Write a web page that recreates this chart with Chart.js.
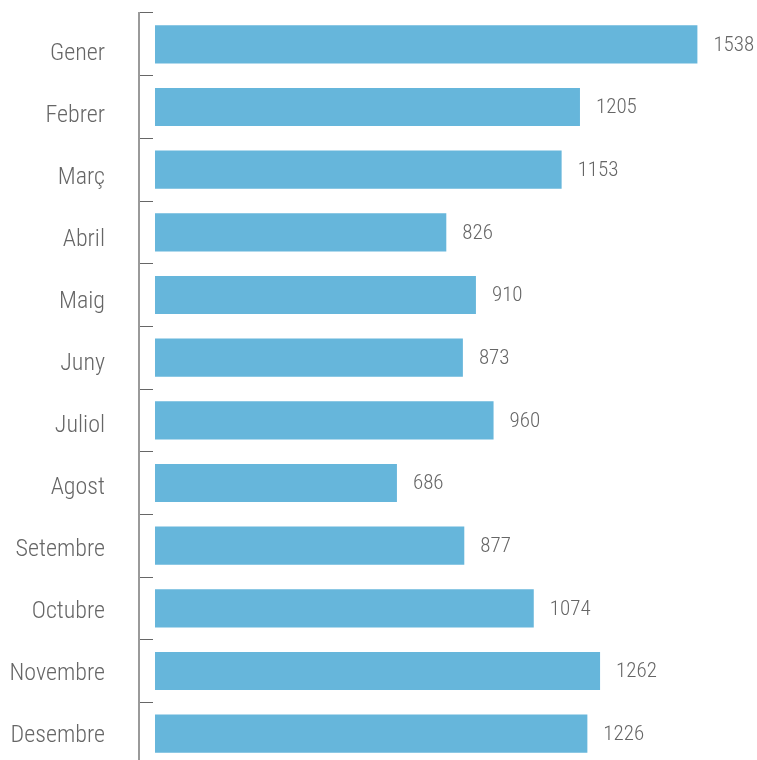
<!DOCTYPE html>
<html>
<head>
<meta charset="utf-8">
<script src="https://cdn.jsdelivr.net/npm/chart.js@4.4.1/dist/chart.umd.min.js"></script>
<style>
  html, body { margin: 0; padding: 0; background: #ffffff; overflow: hidden; }
  #wrap { width: 757px; height: 765px; position: relative; }
</style>
</head>
<body>
<div id="wrap"><canvas id="c"></canvas></div>
<script>
const categories = ["Gener", "Febrer", "Març", "Abril", "Maig", "Juny", "Juliol", "Agost", "Setembre", "Octubre", "Novembre", "Desembre"];
const values = [1538, 1205, 1153, 826, 910, 873, 960, 686, 877, 1074, 1262, 1226];

const FONT = "Roboto, 'Open Sans', sans-serif";

const condensed = {
  id: 'condensed',
  beforeDraw(chart) { try { chart.ctx.fontStretch = 'condensed'; } catch (e) {} }
};

const valueLabels = {
  id: 'valueLabels',
  afterDatasetsDraw(chart) {
    const ctx = chart.ctx;
    const meta = chart.getDatasetMeta(0);
    ctx.save();
    ctx.font = "300 condensed 21px " + FONT;
    try { ctx.fontStretch = 'condensed'; } catch (e) {}
    ctx.fillStyle = '#666666';
    ctx.textAlign = 'left';
    ctx.textBaseline = 'middle';
    meta.data.forEach((bar, i) => {
      ctx.fillText(String(values[i]), bar.x + 16, bar.y + 1);
    });
    ctx.restore();
  }
};

new Chart(document.getElementById('c'), {
  type: 'bar',
  data: {
    labels: categories,
    datasets: [{
      data: values,
      backgroundColor: '#66b6db',
      borderWidth: 0,
      categoryPercentage: 1.0,
      barPercentage: 0.61
    }]
  },
  options: {
    indexAxis: 'y',
    responsive: true,
    maintainAspectRatio: false,
    animation: false,
    layout: { autoPadding: false, padding: { top: 13, right: 0, bottom: 0, left: 0 } },
    plugins: { legend: { display: false }, tooltip: { enabled: false } },
    scales: {
      x: {
        display: false,
        min: -45.4,
        max: 1707
      },
      y: {
        type: 'category',
        position: 'left',
        weight: 0,
        afterFit(scale) { scale.width = 34; scale.paddingTop = 0; scale.paddingBottom = 0; },
        border: { display: true, color: '#9a9a9a', width: 2 },
        grid: {
          display: true,
          drawOnChartArea: false,
          drawTicks: true,
          tickLength: -14,
          color: '#666666',
          lineWidth: 1
        },
        ticks: { display: false }
      },
      yl: {
        type: 'linear',
        position: 'left',
        weight: 1,
        reverse: true,
        offset: false,
        bounds: 'data',
        min: -0.6525,
        max: 11.463,
        afterBuildTicks(scale) { scale.ticks = categories.map((c, i) => ({ value: i })); },
        afterFit(scale) { scale.width = 105; scale.paddingTop = 0; scale.paddingBottom = 0; },
        border: { display: false },
        grid: { display: false, drawTicks: false, offset: false },
        ticks: {
          autoSkip: false,
          padding: 0,
          color: '#666666',
          font: { family: FONT, size: 24, weight: '300 condensed' },
          callback(v) { return categories[Math.round(v)] !== undefined ? categories[Math.round(v)] : ''; }
        }
      }
    }
  },
  plugins: [condensed, valueLabels]
});
</script>
</body>
</html>
